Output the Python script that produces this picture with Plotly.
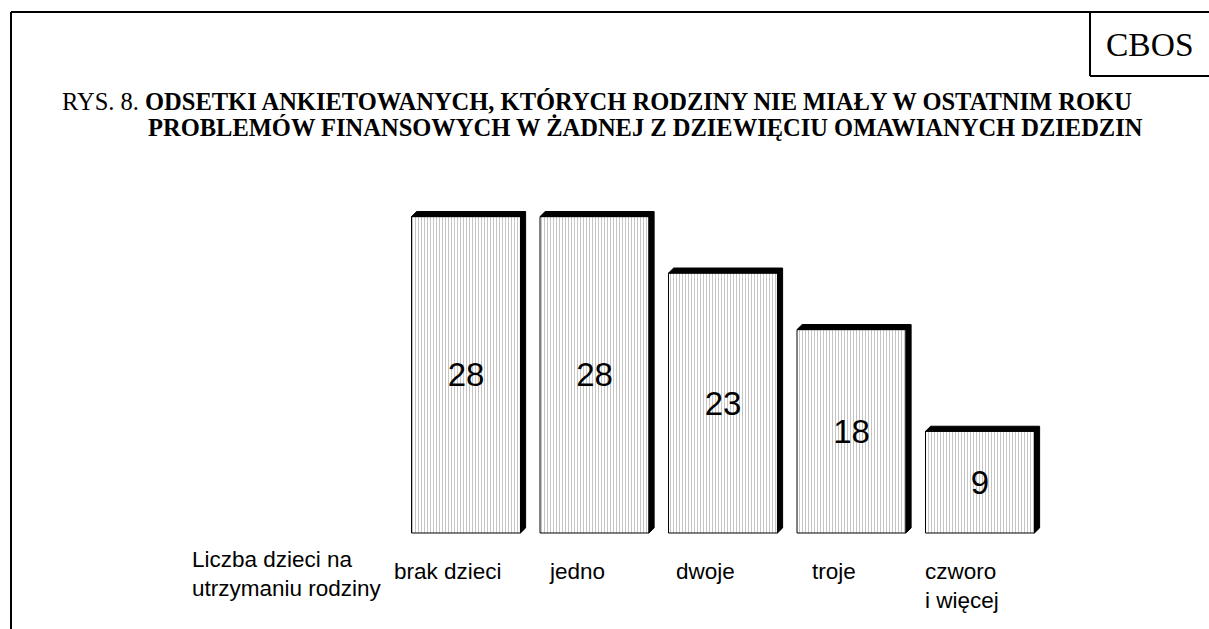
import plotly.graph_objects as go

categories = ["brak dzieci", "jedno", "dwoje", "troje", "czworo<br>i więcej"]
values = [28, 28, 23, 18, 9]
value_labels = ["28", "28", "23", "18", "9"]
axis_caption = "Liczba dzieci na<br>utrzymaniu rodziny"
title_line1 = "RYS. 8. <b>ODSETKI ANKIETOWANYCH, KTÓRYCH RODZINY NIE MIAŁY W OSTATNIM ROKU</b>"
title_line2 = "<b>PROBLEMÓW FINANSOWYCH W ŻADNEJ Z DZIEWIĘCIU OMAWIANYCH DZIEDZIN</b>"
source_label = "CBOS"

W, H = 1209, 629
bar_w = 0.848
dx = 0.04     # depth in x units
dy = 0.45     # depth in y units

xs = list(range(len(values)))

# 3D side/top polygons built from the values
px, py = [], []
for x, v in zip(xs, values):
    x0, x1 = x - bar_w / 2, x + bar_w / 2
    px += [x0, x0 + dx, x1 + dx, x1 + dx, x1, x1, x0, None]
    py += [v, v + dy, v + dy, dy, 0, v, v, None]

SANS = "Arial, Liberation Sans"
SERIF = "Times New Roman, Liberation Serif"

fig = go.Figure()
fig.add_trace(go.Bar(
    x=xs, y=values, width=bar_w,
    text=value_labels, textposition="inside", insidetextanchor="middle",
    textangle=0,
    textfont=dict(family=SANS, size=33, color="black"),
    marker=dict(color="white",
                line=dict(color="black", width=1),
                pattern=dict(shape="|", size=3, solidity=0.34,
                             fgcolor="#8c8c8c", bgcolor="white", fillmode="overlay")),
    hoverinfo="skip", showlegend=False,
))
fig.add_trace(go.Scatter(
    x=px, y=py, mode="lines", fill="toself", fillcolor="black",
    line=dict(color="black", width=1), hoverinfo="skip", showlegend=False,
))

ann = []
for x, c in zip(xs, categories):
    ann.append(dict(x=x, y=0, xref="x", yref="y", text=c, showarrow=False,
                    xanchor="center", yanchor="top", xshift=-18, yshift=-24,
                    align="left",
                    font=dict(family=SANS, size=22.5, color="black")))
ann.append(dict(x=190 / W, y=1 - 545 / H, xref="paper", yref="paper", text=axis_caption,
                showarrow=False, xanchor="left", yanchor="top", align="left",
                font=dict(family=SANS, size=22.5, color="black")))
ann.append(dict(x=60 / W, y=1 - 101 / H, xref="paper", yref="paper", text=title_line1,
                showarrow=False, xanchor="left", yanchor="middle",
                font=dict(family=SERIF, size=24.5, color="black")))
ann.append(dict(x=146 / W, y=1 - 128 / H, xref="paper", yref="paper", text=title_line2,
                showarrow=False, xanchor="left", yanchor="middle",
                font=dict(family=SERIF, size=24.5, color="black")))
ann.append(dict(x=1150 / W, y=1 - 44 / H, xref="paper", yref="paper", text=source_label,
                showarrow=False, xanchor="center", yanchor="middle",
                font=dict(family=SERIF, size=33.5, color="black")))

shapes = [
    # outer frame: top and left
    dict(type="line", xref="paper", yref="paper", x0=11 / W, x1=1, y0=1 - 12 / H, y1=1 - 12 / H,
         line=dict(color="black", width=2)),
    dict(type="line", xref="paper", yref="paper", x0=11 / W, x1=11 / W, y0=1 - 12 / H, y1=0,
         line=dict(color="black", width=2)),
    # CBOS box
    dict(type="line", xref="paper", yref="paper", x0=1090 / W, x1=1090 / W, y0=1 - 12 / H, y1=1 - 76 / H,
         line=dict(color="black", width=2)),
    dict(type="line", xref="paper", yref="paper", x0=1090 / W, x1=1, y0=1 - 76 / H, y1=1 - 76 / H,
         line=dict(color="black", width=2)),
]

fig.update_layout(
    width=W, height=H,
    margin=dict(l=0, r=0, t=0, b=0),
    paper_bgcolor="white", plot_bgcolor="white",
    xaxis=dict(range=[-466 / 128.5, (W - 466) / 128.5], visible=False, fixedrange=True),
    yaxis=dict(range=[-(H - 533) / 11.3, 533 / 11.3], visible=False, fixedrange=True),
    annotations=ann, shapes=shapes,
    uniformtext=dict(minsize=8, mode="show"),
)

fig.write_html(
    "out.html",
    config={"displayModeBar": False},
    post_script="document.body.style.margin='0';document.body.style.overflow='hidden';",
)
